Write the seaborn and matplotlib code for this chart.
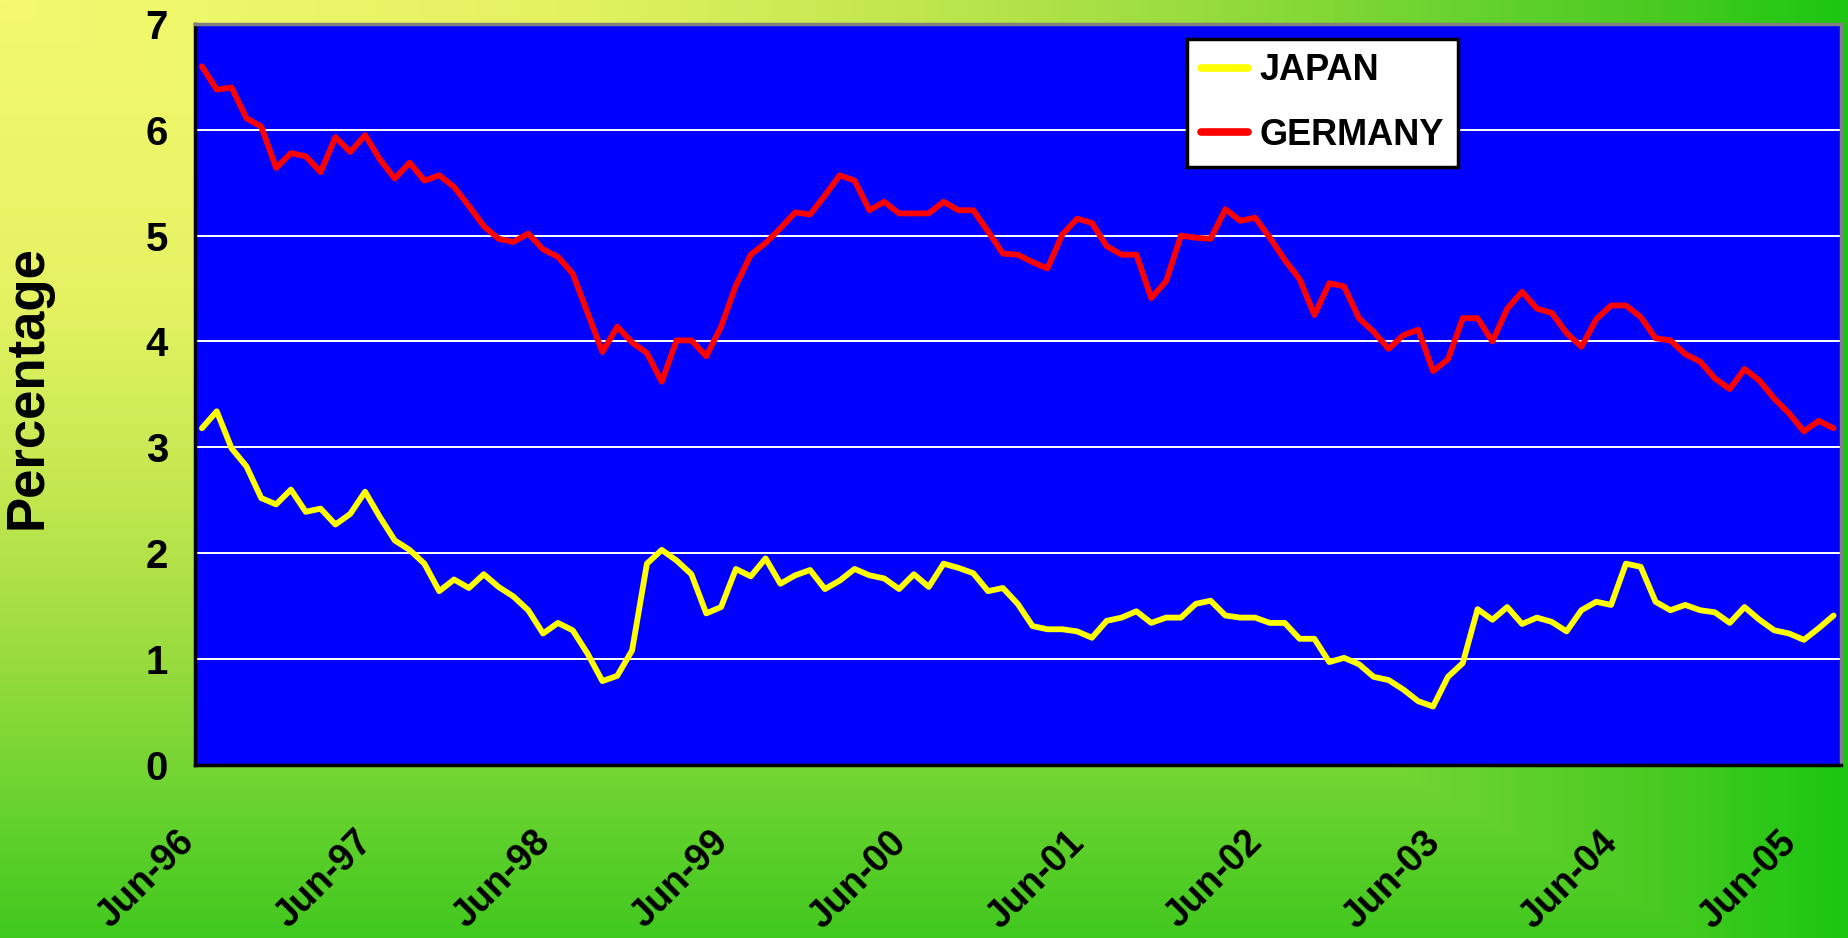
"""
Japan vs Germany long-term rates, monthly Jun-96 .. Aug-05
Recreated with seaborn on an Excel-like gradient background.
"""

import numpy as np
import pandas as pd
import matplotlib
matplotlib.use('Agg')
import matplotlib.pyplot as plt
import matplotlib.transforms as mtransforms
from matplotlib.colors import LinearSegmentedColormap
import seaborn as sns

# ================================================================================
# 1. DATA
# ================================================================================
n_months = 111  # Jun-96 .. Aug-05

japan = [
    3.18, 3.34, 2.99, 2.82, 2.52, 2.46, 2.60, 2.39, 2.42, 2.27, 2.37, 2.58,
    2.34, 2.12, 2.03, 1.90, 1.64, 1.75, 1.67, 1.80, 1.68, 1.59, 1.46, 1.24,
    1.34, 1.27, 1.05, 0.79, 0.84, 1.08, 1.90, 2.03, 1.93, 1.80, 1.43, 1.49,
    1.85, 1.78, 1.95, 1.71, 1.79, 1.84, 1.66, 1.74, 1.85, 1.79, 1.76, 1.66,
    1.80, 1.68, 1.90, 1.86, 1.81, 1.64, 1.67, 1.52, 1.31, 1.28, 1.28, 1.26,
    1.20, 1.36, 1.39, 1.45, 1.34, 1.39, 1.39, 1.52, 1.55, 1.41, 1.39, 1.39,
    1.34, 1.34, 1.19, 1.19, 0.97, 1.01, 0.95, 0.83, 0.80, 0.71, 0.60, 0.55,
    0.83, 0.96, 1.47, 1.37, 1.49, 1.33, 1.39, 1.35, 1.26, 1.46, 1.54, 1.51,
    1.90, 1.87, 1.54, 1.46, 1.51, 1.46, 1.44, 1.34, 1.49, 1.37, 1.27, 1.24,
    1.18, 1.29, 1.41,
]

germany = [
    6.60, 6.38, 6.40, 6.11, 6.03, 5.64, 5.78, 5.75, 5.60, 5.93, 5.79, 5.95,
    5.72, 5.54, 5.69, 5.52, 5.57, 5.46, 5.28, 5.09, 4.97, 4.94, 5.02, 4.87,
    4.80, 4.64, 4.27, 3.90, 4.14, 3.99, 3.89, 3.62, 4.01, 4.01, 3.86, 4.14,
    4.53, 4.82, 4.93, 5.07, 5.22, 5.20, 5.38, 5.57, 5.52, 5.24, 5.32, 5.21,
    5.21, 5.21, 5.32, 5.24, 5.24, 5.04, 4.83, 4.82, 4.75, 4.69, 5.01, 5.16,
    5.12, 4.90, 4.82, 4.82, 4.41, 4.57, 5.00, 4.98, 4.97, 5.25, 5.14, 5.17,
    4.98, 4.77, 4.59, 4.25, 4.55, 4.52, 4.22, 4.09, 3.93, 4.06, 4.11, 3.72,
    3.83, 4.22, 4.22, 4.00, 4.31, 4.47, 4.31, 4.27, 4.08, 3.95, 4.21, 4.34,
    4.34, 4.23, 4.03, 4.01, 3.88, 3.81, 3.65, 3.55, 3.74, 3.63, 3.46, 3.32,
    3.15, 3.25, 3.18,
]

tick_labels = ['Jun-96', 'Jun-97', 'Jun-98', 'Jun-99', 'Jun-00',
               'Jun-01', 'Jun-02', 'Jun-03', 'Jun-04', 'Jun-05']

series_names = ['JAPAN', 'GERMANY']
series_colors = {'JAPAN': '#FFFF00', 'GERMANY': '#FF0000'}

# long format for seaborn; points sit in the middle of each monthly category
df = pd.DataFrame({
    'pos': np.concatenate([np.arange(n_months) + 0.5] * 2),
    'value': japan + germany,
    'country': ['JAPAN'] * len(japan) + ['GERMANY'] * len(germany),
})

# ================================================================================
# 2. STYLE
# ================================================================================
sns.set_theme(style='white')
plt.rcParams['font.family'] = ['Liberation Sans', 'DejaVu Sans']
for key in ['text.color', 'axes.labelcolor', 'xtick.color', 'ytick.color']:
    plt.rcParams[key] = 'black'

# ================================================================================
# 3. FIGURE + GRADIENT BACKGROUND
# ================================================================================
fig = plt.figure(figsize=(18.48, 9.38), dpi=100)

bg = fig.add_axes([0, 0, 1, 1])
gx, gy = np.meshgrid(np.linspace(0, 1, 600), np.linspace(0, 1, 300))
grad = np.maximum(gx, 0.92 * gy)
bg_cmap = LinearSegmentedColormap.from_list(
    'excel_bg', [(0.0, '#F4F96E'), (0.3, '#E4F262'), (0.5, '#BFE64E'),
                 (0.65, '#98DC3E'), (0.8, '#66D22E'), (0.9, '#48CA22'),
                 (1.0, '#1CC612')])
bg.imshow(grad, cmap=bg_cmap, aspect='auto', extent=[0, 1, 0, 1], origin='upper')
bg.axis('off')
bg.set_zorder(0)

ax = fig.add_axes([0.10525, 0.18475, 0.89096, 0.78966])
ax.set_zorder(1)
ax.set_facecolor('#0000FF')

# ================================================================================
# 4. LINES
# ================================================================================
sns.lineplot(data=df, x='pos', y='value', hue='country', hue_order=series_names,
             palette=series_colors, linewidth=4.2, estimator=None, sort=False, ax=ax)

ax.set_xlim(0, n_months)
ax.set_ylim(0, 7)
ax.set_xticks(np.arange(0, 12 * len(tick_labels), 12))
ax.set_xticklabels(tick_labels)
ax.set_yticks(range(0, 8))

ax.grid(axis='y', color='white', linewidth=1.4)
ax.grid(axis='x', visible=False)

for side in ['left', 'bottom']:
    ax.spines[side].set_color('black')
    ax.spines[side].set_linewidth(2.5)
for side in ['top', 'right']:
    ax.spines[side].set_color('#808080')
    ax.spines[side].set_linewidth(2.5)

ax.tick_params(axis='x', direction='out', length=9, width=2, color='black', pad=43)
ax.tick_params(axis='y', direction='out', length=7, width=2, color='black', pad=12)

# nudge the rotated month labels a little to the left, as in the original
shift_left = mtransforms.ScaledTranslation(-6 / 100, 0, fig.dpi_scale_trans)
for lab in ax.get_xticklabels():
    lab.set_rotation(45)
    lab.set_ha('right')
    lab.set_va('center')
    lab.set_rotation_mode('anchor')
    lab.set_fontsize(27)
    lab.set_fontweight('bold')
    lab.set_transform(lab.get_transform() + shift_left)
for lab in ax.get_yticklabels():
    lab.set_fontsize(29)
    lab.set_fontweight('bold')

ax.set_xlabel('')
ax.set_ylabel('Percentage', fontsize=38, fontweight='bold', color='black')
ax.yaxis.set_label_coords(-0.086, 0.51)

# ================================================================================
# 5. LEGEND
# ================================================================================
sns.move_legend(ax, loc='upper left', bbox_to_anchor=(0.6028, 0.9798), title=None,
                borderaxespad=0, frameon=True, fancybox=False, framealpha=1,
                facecolor='white', edgecolor='black',
                prop={'weight': 'bold', 'size': 26},
                handlelength=1.3, handletextpad=0.3, labelspacing=0.82, borderpad=0.4)
leg = ax.get_legend()
leg.get_frame().set_linewidth(2.5)
for h in leg.get_lines():
    h.set_linewidth(5.5)

plt.savefig('out.png', dpi=100)
